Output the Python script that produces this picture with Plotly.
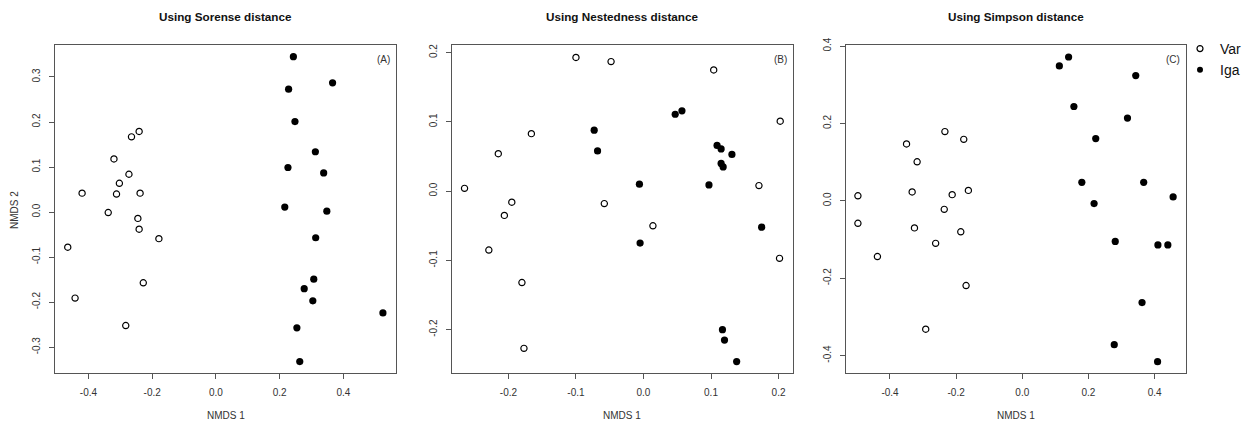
import plotly.graph_objects as go

# ---------------- data ----------------
titles = ["Using Sorense distance", "Using Nestedness distance", "Using Simpson distance"]
panel_tags = ["(A)", "(B)", "(C)"]
group_names = ["Var", "Iga"]

# Panel A (Sorensen)
a_var_x = [-0.420, -0.241, -0.265, -0.320, -0.273, -0.303, -0.312, -0.238, -0.338, -0.245,
           -0.241, -0.179, -0.465, -0.228, -0.442, -0.283]
a_var_y = [0.042, 0.179, 0.167, 0.118, 0.084, 0.064, 0.040, 0.042, -0.001, -0.014,
           -0.038, -0.059, -0.078, -0.157, -0.191, -0.252]
a_iga_x = [0.243, 0.366, 0.228, 0.248, 0.312, 0.226, 0.338, 0.216, 0.348, 0.313,
           0.307, 0.277, 0.304, 0.524, 0.254, 0.263]
a_iga_y = [0.345, 0.287, 0.273, 0.201, 0.134, 0.099, 0.087, 0.011, 0.002, -0.057,
           -0.149, -0.170, -0.197, -0.224, -0.257, -0.332]

# Panel B (Nestedness)
b_var_x = [-0.265, -0.100, -0.048, 0.104, -0.166, -0.215, 0.2025, -0.195, -0.206, -0.058,
           0.171, 0.014, -0.229, -0.180, -0.177, 0.2015]
b_var_y = [0.004, 0.193, 0.187, 0.175, 0.083, 0.054, 0.101, -0.016, -0.035, -0.018,
           0.008, -0.050, -0.085, -0.132, -0.227, -0.097]
b_iga_x = [-0.073, -0.068, 0.047, 0.057, -0.006, 0.109, 0.115, 0.131, 0.115, 0.118,
           0.097, 0.175, -0.005, 0.117, 0.120, 0.138]
b_iga_y = [0.088, 0.058, 0.111, 0.116, 0.010, 0.066, 0.061, 0.053, 0.040, 0.035,
           0.009, -0.052, -0.075, -0.200, -0.215, -0.246]

# Panel C (Simpson)
c_var_x = [-0.497, -0.497, -0.350, -0.234, -0.177, -0.318, -0.333, -0.212, -0.163, -0.236,
           -0.326, -0.186, -0.262, -0.438, -0.170, -0.292]
c_var_y = [0.013, -0.058, 0.147, 0.179, 0.159, 0.101, 0.023, 0.016, 0.027, -0.022,
           -0.070, -0.080, -0.110, -0.144, -0.219, -0.332]
c_iga_x = [0.112, 0.140, 0.343, 0.156, 0.318, 0.222, 0.180, 0.367, 0.456, 0.217,
           0.281, 0.410, 0.440, 0.362, 0.278, 0.409]
c_iga_y = [0.349, 0.372, 0.324, 0.244, 0.214, 0.161, 0.048, 0.048, 0.010, -0.007,
           -0.105, -0.114, -0.114, -0.263, -0.372, -0.416]

# tick values
a_xticks = [-0.4, -0.2, 0.0, 0.2, 0.4]
a_yticks = [-0.3, -0.2, -0.1, 0.0, 0.1, 0.2, 0.3]
b_xticks = [-0.2, -0.1, 0.0, 0.1, 0.2]
b_yticks = [-0.2, -0.1, 0.0, 0.1, 0.2]
c_xticks = [-0.4, -0.2, 0.0, 0.2, 0.4]
c_yticks = [-0.4, -0.2, 0.0, 0.2, 0.4]

# axis ranges
a_xrange = [-0.505, 0.565]
a_yrange = [-0.358, 0.371]
b_xrange = [-0.284, 0.221]
b_yrange = [-0.263, 0.211]
c_xrange = [-0.533, 0.494]
c_yrange = [-0.446, 0.403]

panels = [
    (a_var_x, a_var_y, a_iga_x, a_iga_y, a_xticks, a_yticks, a_xrange, a_yrange),
    (b_var_x, b_var_y, b_iga_x, b_iga_y, b_xticks, b_yticks, b_xrange, b_yrange),
    (c_var_x, c_var_y, c_iga_x, c_iga_y, c_xticks, c_yticks, c_xrange, c_yrange),
]

# ---------------- layout ----------------
W, H = 1249, 423
x_domains = [[55 / W, 396 / W], [451.7 / W, 792.7 / W], [846 / W, 1185.7 / W]]
y_domain = [(H - 373.3) / H, (H - 45) / H]

FONT = "Liberation Sans, Arial, sans-serif"
LINE = "#555555"
TXT = "#333333"

fig = go.Figure()
layout = dict(
    width=W, height=H,
    margin=dict(l=0, r=0, t=0, b=0, pad=0, autoexpand=False),
    paper_bgcolor="white", plot_bgcolor="white",
    font=dict(family=FONT, size=10, color=TXT),
    showlegend=True,
    legend=dict(x=1180 / W, y=(H - 33) / H, xanchor="left", yanchor="top",
                font=dict(size=14, color="#111"), bgcolor="rgba(0,0,0,0)",
                borderwidth=0, tracegroupgap=0, itemwidth=30),
)
annotations = []

for i, (vx, vy, ix, iy, xt, yt, xr, yr) in enumerate(panels):
    n = "" if i == 0 else str(i + 1)
    xa, ya = "x" + n, "y" + n
    fig.add_trace(go.Scatter(
        x=vx, y=vy, mode="markers", xaxis=xa, yaxis=ya, showlegend=False, name=group_names[0],
        marker=dict(symbol="circle-open", size=6.2, color="#000", line=dict(width=1.2, color="#000"))))
    fig.add_trace(go.Scatter(
        x=ix, y=iy, mode="markers", xaxis=xa, yaxis=ya, showlegend=False, name=group_names[1],
        marker=dict(symbol="circle", size=7.2, color="#000", line=dict(width=0))))
    common = dict(showgrid=False, zeroline=False, showline=True, mirror=True,
                  linecolor=LINE, linewidth=1, ticks="outside", ticklen=5,
                  tickcolor=LINE, tickwidth=1, automargin=False,
                  tickfont=dict(size=10, color=TXT, family=FONT))
    layout["xaxis" + n] = dict(domain=x_domains[i], range=xr, anchor=ya,
                               tickvals=xt, ticktext=[f"{v:.1f}" for v in xt],
                               ticklabelstandoff=5, **common)
    layout["yaxis" + n] = dict(domain=y_domain, range=yr, anchor=xa,
                               tickvals=yt, ticktext=[f"{v:.1f}" for v in yt],
                               tickangle=-90, ticklabelstandoff=5, **common)
    annotations.append(dict(text="<b>" + titles[i] + "</b>", xref=xa + " domain", yref="paper",
                            x=0.5, y=(H - 16) / H, xanchor="center", yanchor="middle",
                            showarrow=False, font=dict(size=11.7, color="#111")))
    annotations.append(dict(text="NMDS 1", xref=xa + " domain", yref="paper",
                            x=0.5, y=(H - 415) / H, xanchor="center", yanchor="middle",
                            showarrow=False, font=dict(size=10, color=TXT)))
    annotations.append(dict(text=panel_tags[i], xref=xa + " domain", yref=ya + " domain",
                            x=0.988, y=0.957, xanchor="right", yanchor="middle",
                            showarrow=False, font=dict(size=10, color=TXT)))

annotations.append(dict(text="NMDS 2", xref="paper", yref="paper",
                        x=14 / W, y=(H - 210) / H, xanchor="center", yanchor="middle",
                        textangle=-90, showarrow=False, font=dict(size=10, color=TXT)))

# legend-only entries
fig.add_trace(go.Scatter(x=[None], y=[None], mode="markers", name=group_names[0],
                         marker=dict(symbol="circle-open", size=6, color="#000", line=dict(width=1.2))))
fig.add_trace(go.Scatter(x=[None], y=[None], mode="markers", name=group_names[1],
                         marker=dict(symbol="circle", size=6, color="#000")))

layout["annotations"] = annotations
fig.update_layout(**layout)
fig.write_html("out.html", config={"displayModeBar": False},
               post_script="document.body.style.margin='0';")
